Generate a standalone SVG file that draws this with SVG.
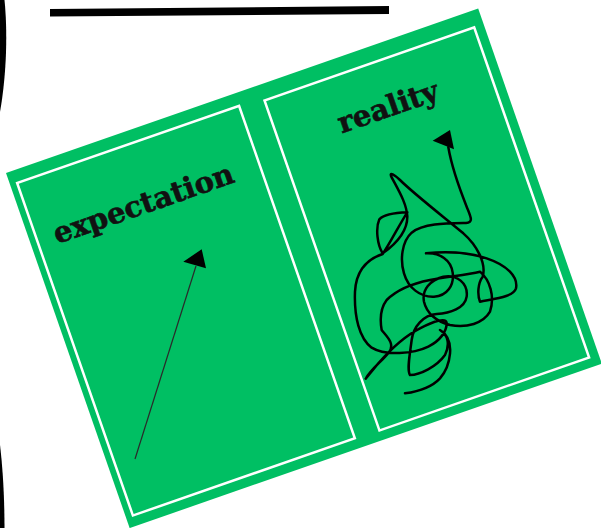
<svg xmlns="http://www.w3.org/2000/svg" width="601" height="528" viewBox="0 0 601 528">
  <style>
    .board { fill: #00BF63; }
    .frame { fill: none; stroke: #ffffff; stroke-width: 2.5; }
    .label { font-family: "DejaVu Serif", "Liberation Serif", serif; font-weight: bold; font-size: 29px; fill: #111111; stroke: #111111; stroke-width: 0.6; }
    .ink { fill: #000000; }
  </style>
  <g id="decor">
    <polygon class="ink" points="50,9 389,6 389,14 50,16.5"/>
    <path class="ink" d="M0,0 L4.5,0 C7.5,30 7,72 0,112 Z"/>
    <path class="ink" d="M0,445 C3,470 4.5,500 4.5,528 L0,528 Z"/>
  </g>
  <g id="board" transform="translate(6 173) rotate(-19.2)">
    <rect class="board" x="0" y="0" width="500" height="376"/>
  </g>
  <g id="expectation-panel" transform="translate(6 173) rotate(-19.2)">
    <rect class="frame" x="7.2" y="13.2" width="235" height="352"/>
    <text class="label" x="25" y="84">expectation</text>
  </g>
  <g id="reality-panel" transform="translate(6 173) rotate(-19.2)">
    <rect class="frame" x="268" y="16.5" width="222" height="349.5"/>
    <text class="label" x="330" y="73">reality</text>
  </g>
  <g id="connectors">
    <line x1="135" y1="459" x2="196" y2="266" stroke="#2a2a2a" stroke-width="1.2"/>
    <polygon class="ink" points="201.7,249.3 183.3,261.7 206,268.3"/>
    <g transform="translate(300 50) scale(0.33333)">
      <path fill="none" stroke="#000" stroke-width="7.5" stroke-linecap="round" stroke-linejoin="round" d="M445,292 C455,350 480,420 500,470 C512,500 522,518 498,519 C440,520 370,520 335,548 C305,575 300,630 312,670 C325,715 362,742 402,740 C442,738 463,705 458,668 C453,630 420,608 378,610 C430,605 500,605 560,625 C620,645 655,680 648,715 C640,740 590,745 540,755 C532,735 533,700 548,680 C560,640 530,585 490,550 C430,500 340,430 300,390 C285,375 265,362 275,382 C295,420 320,460 322,500 C322,545 290,580 248,610 C232,585 226,535 238,508 C255,490 295,488 322,487 C300,520 270,580 248,612 C200,628 168,665 165,725 C162,800 178,865 215,893 C255,918 340,912 385,890 C420,872 440,845 440,820 C440,800 400,815 360,835 C310,860 270,900 235,940 C215,965 192,992 198,985 C210,960 250,930 268,905 C285,880 260,860 245,840 C238,800 245,770 260,750 C290,720 340,700 390,690 C440,680 500,675 540,665 C570,690 585,740 570,785 C550,820 500,835 450,825 C410,815 380,790 372,755 C365,720 390,690 430,680 C470,672 505,700 500,740 C495,775 450,790 410,792 C370,795 340,830 335,870 C330,910 320,960 330,975 C360,975 410,950 435,915 C450,885 445,855 420,840 C470,870 450,950 420,985 C395,1012 350,1025 315,1030"/>
    </g>
    <polygon class="ink" points="450,130 432.7,140.7 454,149.3"/>
  </g>
</svg>
